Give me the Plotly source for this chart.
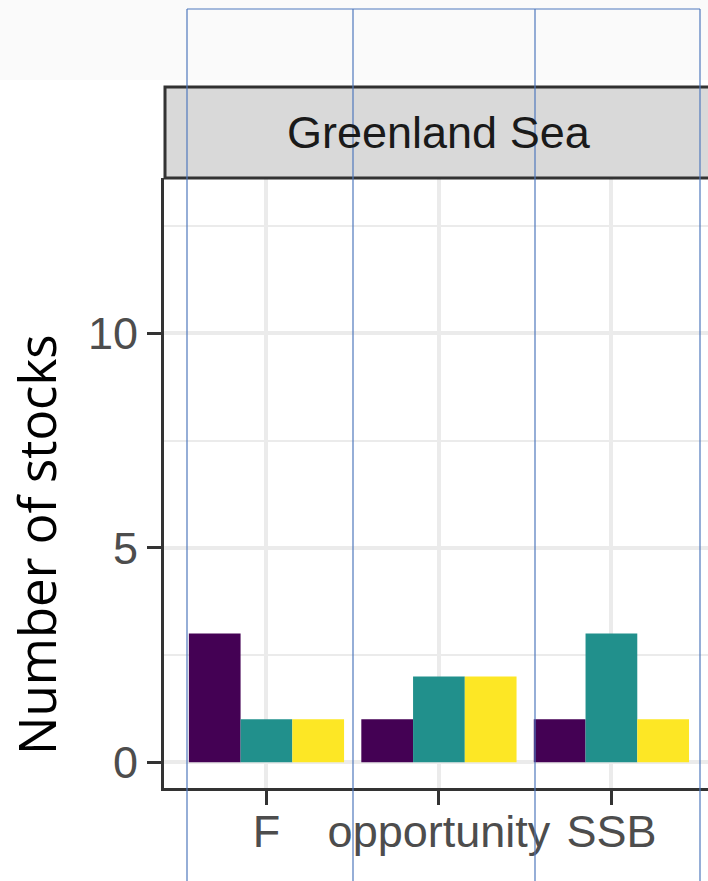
import plotly.graph_objects as go

categories = ["F", "opportunity", "SSB"]
series_names = ["Group 1", "Group 2", "Group 3"]
series_values = [
    [3, 1, 1],
    [1, 2, 3],
    [1, 2, 1],
]
series_colors = ["#440154", "#21908C", "#FDE725"]
y_tick_vals = [0, 5, 10]
y_tick_text = ["0", "5", "10"]
facet_label = "Greenland Sea"
y_title = "Number of stocks"

W, H = 708, 881
L, R, T, B = 164, 0, 178, 93
pw, ph = W - L - R, H - T - B

def px_x(p):
    return (p - L) / pw

def px_y(p):
    return (H - B - p) / ph

fig = go.Figure()
for name, vals, col in zip(series_names, series_values, series_colors):
    fig.add_trace(go.Bar(x=list(range(len(categories))), y=vals, name=name,
                         marker=dict(color=col, line=dict(width=0))))

axis_font = dict(family="Liberation Sans, Arial, sans-serif", size=45, color="#4d4d4d")

fig.update_layout(
    width=W, height=H,
    margin=dict(l=L, r=R, t=T, b=B, autoexpand=False),
    paper_bgcolor="white", plot_bgcolor="white",
    barmode="group", bargap=0.1, bargroupgap=0,
    showlegend=False,
    xaxis=dict(
        range=[-0.594, 2.56], tickvals=[0, 1, 2], ticktext=categories,
        showgrid=True, gridcolor="#ebebeb", gridwidth=3.5,
        showline=True, linecolor="#333333", linewidth=3,
        ticks="outside", ticklen=14, tickwidth=3, tickcolor="#333333",
        tickfont=axis_font, zeroline=False, ticklabelstandoff=-12,
    ),
    yaxis=dict(
        range=[-0.6, 13.62], tickvals=y_tick_vals, ticktext=y_tick_text,
        showgrid=True, gridcolor="#ebebeb", gridwidth=3.5,
        minor=dict(tickvals=[2.5, 7.5, 12.5], showgrid=True, gridcolor="#ebebeb", gridwidth=2, ticks=""),
        showline=True, linecolor="#333333", linewidth=3,
        ticks="outside", ticklen=14, tickwidth=3, tickcolor="#333333",
        tickfont=axis_font, zeroline=False, ticklabelstandoff=0,
    ),
)

# faint top band
fig.add_shape(type="rect", xref="paper", yref="paper", x0=px_x(0), x1=px_x(W), y0=px_y(80), y1=px_y(0),
              fillcolor="#fafafa", line=dict(width=0), layer="below")
# facet strip
fig.add_shape(type="rect", xref="paper", yref="paper", x0=px_x(165), x1=px_x(730), y0=px_y(178), y1=px_y(87),
              fillcolor="#d9d9d9", line=dict(color="#333333", width=3), layer="above")
fig.add_annotation(text=facet_label, xref="paper", yref="paper", x=px_x(439), y=px_y(132),
                   showarrow=False, xanchor="center", yanchor="middle",
                   font=dict(family="Liberation Sans, Arial, sans-serif", size=45, color="#1a1a1a"))
# y title
fig.add_annotation(text=y_title, xref="paper", yref="paper", x=px_x(36), y=px_y(545),
                   showarrow=False, xanchor="center", yanchor="middle", textangle=-90,
                   font=dict(family="Open Sans, Noto Sans, sans-serif", size=51, color="black"))

# blue overlay frame lines
blue = "#4f78bd"
for xp in [187, 353, 535, 700]:
    fig.add_shape(type="line", xref="paper", yref="paper", x0=px_x(xp), x1=px_x(xp),
                  y0=px_y(9), y1=px_y(H + 5), line=dict(color=blue, width=1.2), layer="above")
fig.add_shape(type="line", xref="paper", yref="paper", x0=px_x(187), x1=px_x(700),
              y0=px_y(9), y1=px_y(9), line=dict(color=blue, width=1.2), layer="above")

fig.write_html("out.html", config={"displayModeBar": False},
               post_script="document.body.style.margin='0';document.body.style.overflow='hidden';")
